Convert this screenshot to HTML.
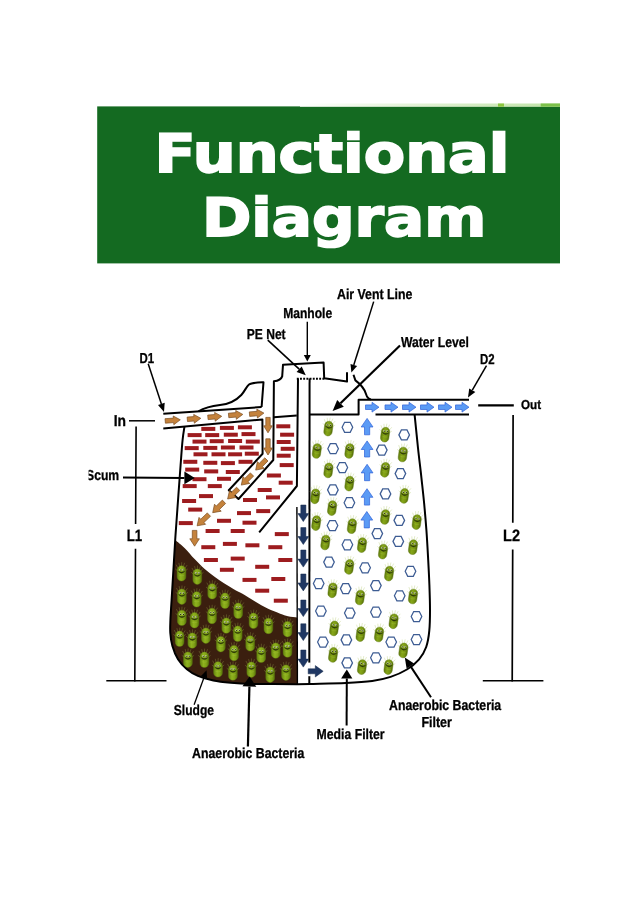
<!DOCTYPE html>
<html lang="en">
<head>
<meta charset="utf-8">
<title>Functional Diagram</title>
<style>
  html, body { margin: 0; padding: 0; background: #ffffff; }
  body { width: 638px; height: 909px; overflow: hidden; position: relative; }
  svg { position: absolute; left: 0; top: 0; display: block; will-change: transform; -webkit-font-smoothing: antialiased; text-rendering: geometricPrecision; }
  .title { font-family: "DejaVu Sans", "Liberation Sans", sans-serif; font-weight: bold; font-size: 53px; fill: #ffffff; stroke: #ffffff; stroke-width: 1.8px; stroke-linejoin: miter; }
  .lb { font-family: "Liberation Sans", Arial, sans-serif; font-weight: bold; fill: #000000; stroke: #000000; stroke-width: 0.3px; }
</style>
</head>
<body>
<svg width="638" height="909" viewBox="0 0 638 909">
<defs>
  <linearGradient id="strip" x1="0" y1="0" x2="1" y2="0">
    <stop offset="0" stop-color="#ffffff"/>
    <stop offset="0.5" stop-color="#dff0d0"/>
    <stop offset="1" stop-color="#bfe3a6"/>
  </linearGradient>
  <clipPath id="scumclip"><rect x="88.6" y="465" width="40" height="20"/></clipPath>
  <linearGradient id="bg" x1="0" y1="0" x2="1" y2="0">
    <stop offset="0" stop-color="#5f7a0c"/>
    <stop offset="0.4" stop-color="#86a618"/>
    <stop offset="0.7" stop-color="#789612"/>
    <stop offset="1" stop-color="#536c08"/>
  </linearGradient>
  <linearGradient id="bgd" x1="0" y1="0" x2="1" y2="0">
    <stop offset="0" stop-color="#64840e"/>
    <stop offset="0.4" stop-color="#8fb31e"/>
    <stop offset="0.7" stop-color="#80a216"/>
    <stop offset="1" stop-color="#58740a"/>
  </linearGradient>
  <g id="hex">
    <polygon points="-5.3,0 -2.8,-5 2.8,-5 5.3,0 2.8,5 -2.8,5" fill="#ffffff" stroke="#3d5c93" stroke-width="1.25" stroke-linejoin="miter"/>
  </g>
  <g id="bacbody">
    <circle cx="-1.4" cy="-3.6" r="1" fill="#d6e0b4"/>
    <circle cx="1.5" cy="-3.6" r="1" fill="#d6e0b4"/>
    <circle cx="-1.2" cy="-3.5" r="0.62" fill="#222a08"/>
    <circle cx="1.7" cy="-3.5" r="0.62" fill="#222a08"/>
    <path d="M-3.2,-2.1 Q0.1,1.7 3.3,-2.1 Q0.1,-0.5 -3.2,-2.1 Z" fill="#2b3608" stroke="#2b3608" stroke-width="0.4" stroke-linejoin="round"/>
    <path d="M-2.6,1.9 Q0.1,2.9 2.8,1.9" fill="none" stroke="#b4cf52" stroke-width="0.4" opacity="0.55"/>
  </g>
  <g id="bac">
    <g transform="rotate(8)">
      <g stroke="#a9c45a" stroke-width="0.5" fill="none" stroke-linecap="round" opacity="0.6">
        <path d="M-3.4,-5 L-5.2,-8.4 M-1.8,-6.6 L-2.6,-10.2 M0,-7 L0.2,-10.8 M1.8,-6.6 L3,-10.2 M3.4,-5 L5.4,-8 M4,-2.6 L5.9,-4.2 M-4,-2.6 L-5.9,-4.2"/>
      </g>
      <rect x="-4.2" y="-7.4" width="8.4" height="14.8" rx="4.2" ry="4.2" fill="url(#bg)" stroke="#5b7510" stroke-width="0.4"/>
      <use href="#bacbody"/>
    </g>
  </g>
  <g id="bacd">
    <g stroke="#8c9440" stroke-width="0.5" fill="none" stroke-linecap="round" opacity="0.8">
      <path d="M-3.4,-5 L-5.2,-8.4 M-1.8,-6.6 L-2.6,-10.2 M0,-7 L0.2,-10.8 M1.8,-6.6 L3,-10.2 M3.4,-5 L5.4,-8 M4,-2.6 L5.9,-4.2 M-4,-2.6 L-5.9,-4.2"/>
    </g>
    <rect x="-4.4" y="-7.7" width="8.8" height="15.4" rx="4.4" ry="4.4" fill="url(#bgd)" stroke="#5f7d10" stroke-width="0.4"/>
    <use href="#bacbody"/>
  </g>
</defs>
<rect x="97.2" y="106.4" width="462.8" height="157" fill="#146a21"/>
<rect x="300" y="103.5" width="260" height="3.2" fill="url(#strip)"/>
<rect x="498" y="103.5" width="6" height="3.2" fill="#8cc63f"/>
<rect x="540.7" y="103.5" width="19.3" height="3.2" fill="#7cc04a"/>
<text class="title" x="154.6" y="172.3" textLength="354.8" lengthAdjust="spacingAndGlyphs">Functional</text>
<text class="title" x="201.9" y="235.8" textLength="284.4" lengthAdjust="spacingAndGlyphs">Diagram</text>
<path fill="#3b1f0f" d="M175.2,540.0 C176.8,541.4 181.6,545.0 184.8,548.2 C188.0,551.4 191.3,555.6 194.6,559.0 C197.9,562.4 201.1,565.9 204.4,568.8 C207.7,571.7 210.9,574.2 214.2,576.6 C217.5,579.0 220.7,581.1 224.0,583.2 C227.3,585.3 230.7,587.4 233.8,589.2 C236.9,591.0 238.9,591.7 242.5,593.8 C246.1,595.9 250.9,599.1 255.1,601.6 C259.3,604.1 263.4,606.6 267.6,608.6 C271.8,610.6 276.8,612.5 280.2,613.8 C283.6,615.1 285.2,615.6 288.0,616.2 C290.8,616.8 295.5,617.2 297.0,617.4 L297,684.4 L297.0,684.2 L252.8,683.9 L230.8,682.8 L213.3,680.5 L197.9,675.8 L186.9,669.2 L178.0,659.3 L172.4,646.0 L170.3,633.0 L170.4,620.0 L171.6,600.0 L173.4,570.0 L175.2,540.0 Z"/>
<g fill="#9d1c1f"><rect x="201.3" y="426.9" width="14" height="4"/><rect x="219.9" y="425.9" width="14" height="4"/><rect x="237.9" y="425.3" width="14" height="4"/><rect x="276.3" y="424.3" width="14" height="4"/><rect x="187.6" y="433.1" width="14" height="4"/><rect x="205.2" y="433.1" width="14" height="4"/><rect x="223.8" y="432.7" width="14" height="4"/><rect x="241.5" y="432.1" width="14" height="4"/><rect x="280.1" y="432.7" width="14" height="4"/><rect x="192.5" y="439.6" width="14" height="4"/><rect x="209.7" y="439.2" width="14" height="4"/><rect x="228.1" y="439.0" width="14" height="4"/><rect x="245.8" y="439.6" width="14" height="4"/><rect x="276.7" y="440.0" width="14" height="4"/><rect x="184.7" y="446.1" width="14" height="4"/><rect x="203.3" y="445.9" width="14" height="4"/><rect x="220.9" y="445.5" width="14" height="4"/><rect x="239.5" y="445.5" width="14" height="4"/><rect x="280.7" y="446.8" width="14" height="4"/><rect x="193.5" y="452.3" width="14" height="4"/><rect x="211.5" y="452.3" width="14" height="4"/><rect x="228.1" y="452.3" width="14" height="4"/><rect x="244.8" y="451.7" width="14" height="4"/><rect x="276.7" y="453.7" width="14" height="4"/><rect x="183.3" y="459.8" width="14" height="4"/><rect x="203.3" y="460.8" width="14" height="4"/><rect x="220.9" y="461.1" width="14" height="4"/><rect x="238.5" y="459.8" width="14" height="4"/><rect x="279.7" y="463.1" width="14" height="4"/><rect x="185.2" y="467.6" width="14" height="4"/><rect x="204.2" y="469.4" width="14" height="4"/><rect x="225.8" y="470.0" width="14" height="4"/><rect x="266.9" y="473.5" width="14" height="4"/><rect x="192.5" y="477.2" width="14" height="4"/><rect x="217.0" y="476.8" width="14" height="4"/><rect x="278.7" y="480.7" width="14" height="4"/><rect x="182.7" y="484.1" width="14" height="4"/><rect x="207.8" y="484.1" width="14" height="4"/><rect x="257.7" y="488.0" width="14" height="4"/><rect x="199.0" y="494.1" width="14" height="4"/><rect x="243.0" y="498.0" width="14" height="4"/><rect x="266.0" y="495.4" width="14" height="4"/><rect x="182.1" y="499.0" width="14" height="4"/><rect x="188.2" y="507.6" width="14" height="4"/><rect x="237.0" y="511.1" width="14" height="4"/><rect x="256.2" y="509.1" width="14" height="4"/><rect x="178.8" y="521.1" width="14" height="4"/><rect x="217.0" y="518.8" width="14" height="4"/><rect x="242.5" y="520.7" width="14" height="4"/><rect x="205.6" y="529.0" width="14" height="4"/><rect x="230.7" y="529.0" width="14" height="4"/><rect x="274.8" y="532.1" width="14" height="4"/><rect x="201.3" y="545.2" width="14" height="4"/><rect x="222.9" y="541.9" width="14" height="4"/><rect x="245.4" y="543.3" width="14" height="4"/><rect x="268.3" y="545.2" width="14" height="4"/><rect x="203.9" y="558.0" width="14" height="4"/><rect x="230.7" y="556.6" width="14" height="4"/><rect x="278.3" y="558.0" width="14" height="4"/><rect x="219.9" y="567.8" width="14" height="4"/><rect x="255.2" y="564.8" width="14" height="4"/><rect x="242.5" y="577.9" width="14" height="4"/><rect x="271.3" y="577.0" width="14" height="4"/><rect x="255.2" y="588.7" width="14" height="4"/><rect x="273.8" y="598.7" width="14" height="4"/></g>
<path fill="none" stroke="#000" stroke-width="2" stroke-linejoin="round" stroke-linecap="butt" d="M184.5,426.4 C184.2,428.7 183.2,433.6 182.6,440.0 C181.9,446.4 181.3,455.8 180.6,465.0 C179.9,474.2 179.1,485.8 178.4,495.0 C177.7,504.2 177.1,512.5 176.6,520.0 C176.1,527.5 175.7,531.7 175.2,540.0 C174.7,548.3 174.0,560.0 173.4,570.0 C172.8,580.0 172.1,591.7 171.6,600.0 C171.1,608.3 170.6,614.5 170.4,620.0 C170.2,625.5 170.0,628.7 170.3,633.0 C170.6,637.3 171.1,641.6 172.4,646.0 C173.7,650.4 175.6,655.4 178.0,659.3 C180.4,663.2 183.6,666.5 186.9,669.2 C190.2,672.0 193.5,673.9 197.9,675.8 C202.3,677.7 207.8,679.3 213.3,680.5 C218.8,681.7 224.2,682.2 230.8,682.8 C237.4,683.4 241.8,683.7 252.8,683.9 C263.8,684.1 289.6,684.2 297.0,684.2 L310,684  C316.0,683.8 335.4,683.5 345.8,683.0 C356.2,682.5 364.7,682.0 372.2,681.0 C379.7,680.0 384.8,678.8 390.6,676.9 C396.4,675.0 402.1,672.4 406.9,669.5 C411.6,666.6 415.9,663.0 419.1,659.3 C422.3,655.5 424.5,651.8 426.2,647.0 C427.9,642.2 428.7,636.9 429.3,630.7 C429.9,624.5 430.0,617.6 430.0,610.0 C430.0,602.4 429.7,593.3 429.4,585.0 C429.1,576.7 428.7,569.2 428.2,560.0 C427.7,550.8 427.1,539.3 426.4,530.0 C425.7,520.7 425.0,512.7 424.2,504.0 C423.4,495.3 422.4,486.9 421.4,477.6 C420.4,468.3 419.1,458.5 418.0,448.0 C416.9,437.5 415.2,420.2 414.6,414.6"/>
<path fill="none" stroke="#000" stroke-width="2" stroke-linejoin="round" stroke-linecap="butt" d="M198.5,411.4 C204,408 211,406 220,405 C229,404.2 236,400.5 241.3,395 C245,391 246,387 249,384.5 C252,382.6 257,382.5 263.5,382.2 L261.6,407"/>
<path fill="none" stroke="#000" stroke-width="2" stroke-linejoin="round" stroke-linecap="butt" d="M163.3,413.8 L261.6,407"/>
<path fill="none" stroke="#000" stroke-width="2" stroke-linejoin="round" stroke-linecap="butt" d="M163.3,428.4 L262.4,419.4 L262.6,453.8 L228.8,490.2 L238.5,499 L273.3,460 L273.9,381.2 Q280.8,380.6 282.2,376.4 L283,364.8 L323.6,362.6 L324.2,378.2 L347,381.6 L347,372.2"/>
<path fill="none" stroke="#000" stroke-width="2" stroke-linejoin="round" stroke-linecap="butt" d="M353.5,374.8 L355.4,380.4 C361,384.5 364.5,389 366,394 C367,397.5 368.5,399 371,399.4"/>
<path fill="none" stroke="#000" stroke-width="2" stroke-linejoin="round" stroke-linecap="butt" d="M469,399.8 L358.6,399.8 L358.6,414.5 L310,414.5"/>
<path fill="none" stroke="#000" stroke-width="2" stroke-linejoin="round" stroke-linecap="butt" d="M375.5,414.6 L469,414.6"/>
<path fill="none" stroke="#000" stroke-width="2" stroke-linejoin="round" stroke-linecap="butt" d="M298,378.4 L296.9,486 L259.2,532.4"/>
<path fill="none" stroke="#000" stroke-width="2" stroke-linejoin="round" stroke-linecap="butt" d="M309.6,378.4 L309.3,684"/>
<path fill="none" stroke="#000" stroke-width="1.4" d="M296.9,507 L297.4,684"/>
<rect x="307.8" y="662.6" width="3" height="13.6" fill="#ffffff"/>
<path fill="none" stroke="#000" stroke-width="2" stroke-linejoin="round" stroke-linecap="butt" d="M273.9,417.3 L296.8,415.6"/>
<path fill="none" stroke="#000" stroke-width="1.9" stroke-dasharray="1.9 1.3" d="M296.8,378.8 L324.4,378.8"/>
<g fill="#c4823c" stroke="#7a4c20" stroke-width="0.7" stroke-linejoin="round"><polygon points="165.4,423.2 173.7,422.6 173.8,424.7 180.3,419.8 173.2,416.0 173.4,418.1 165.0,418.7"/><polygon points="187.5,421.5 194.2,421.0 194.3,423.2 200.8,418.3 193.7,414.4 193.9,416.6 187.1,417.1"/><polygon points="208.1,419.6 215.1,419.0 215.2,421.2 221.7,416.3 214.6,412.4 214.8,414.5 207.7,415.1"/><polygon points="228.8,417.7 236.2,417.1 236.3,419.3 242.8,414.4 235.7,410.5 235.9,412.6 228.4,413.2"/><polygon points="249.7,416.4 257.3,415.8 257.4,418.0 263.9,413.1 256.8,409.2 257.0,411.3 249.3,411.9"/><polygon points="265.8,417.4 265.8,425.8 263.7,425.8 268.0,432.8 272.3,425.8 270.2,425.8 270.2,417.4"/><polygon points="265.8,438.8 265.8,448.0 263.7,448.0 268.0,455.0 272.3,448.0 270.2,448.0 270.2,438.8"/><polygon points="264.8,457.8 259.2,463.4 257.4,461.6 255.7,470.1 264.2,468.4 262.4,466.6 268.0,461.0"/><polygon points="250.4,472.9 244.8,478.4 243.0,476.6 241.3,485.1 249.8,483.4 248.0,481.7 253.6,476.1"/><polygon points="236.6,487.2 231.2,492.4 229.5,490.6 227.6,499.0 236.1,497.5 234.4,495.7 239.8,490.6"/><polygon points="222.4,500.1 216.3,506.0 214.5,504.2 212.7,512.7 221.2,511.2 219.5,509.4 225.6,503.5"/><polygon points="207.3,512.9 200.7,519.2 199.0,517.4 197.1,525.8 205.6,524.3 203.9,522.5 210.5,516.3"/><polygon points="192.3,530.4 192.3,538.8 189.8,538.8 194.6,546.2 199.4,538.8 196.9,538.8 196.9,530.4"/></g>
<g fill="#1f3763" stroke="#152848" stroke-width="0.5" stroke-linejoin="round"><polygon points="300.8,505.0 300.8,513.6 297.9,513.6 303.3,521.6 308.7,513.6 305.9,513.6 305.9,505.0"/><polygon points="300.8,527.6 300.8,536.5 297.9,536.5 303.3,544.5 308.7,536.5 305.9,536.5 305.9,527.6"/><polygon points="300.8,550.0 300.8,559.1 297.9,559.1 303.3,567.1 308.7,559.1 305.9,559.1 305.9,550.0"/><polygon points="300.8,574.0 300.8,582.9 297.9,582.9 303.3,590.9 308.7,582.9 305.9,582.9 305.9,574.0"/><polygon points="300.8,600.0 300.8,608.6 297.9,608.6 303.3,616.6 308.7,608.6 305.9,608.6 305.9,600.0"/><polygon points="300.8,623.8 300.8,632.6 297.9,632.6 303.3,640.6 308.7,632.6 305.9,632.6 305.9,623.8"/><polygon points="300.8,650.0 300.8,659.1 297.9,659.1 303.3,667.1 308.7,659.1 305.9,659.1 305.9,650.0"/><polygon points="308.2,673.8 315.3,673.8 315.3,677.0 323.2,671.3 315.3,665.6 315.3,668.8 308.2,668.8"/></g>
<g fill="#5b9bf5" stroke="#2f62d8" stroke-width="0.7" stroke-linejoin="round"><polygon points="369.7,434.8 369.7,427.0 373.0,427.0 367.1,418.4 361.2,427.0 364.5,427.0 364.5,434.8"/><polygon points="369.7,457.0 369.7,449.5 373.0,449.5 367.1,440.9 361.2,449.5 364.5,449.5 364.5,457.0"/><polygon points="369.7,480.7 369.7,472.9 373.0,472.9 367.1,464.3 361.2,472.9 364.5,472.9 364.5,480.7"/><polygon points="369.6,505.1 369.6,497.3 372.9,497.3 367.0,488.7 361.1,497.3 364.4,497.3 364.4,505.1"/><polygon points="369.4,527.9 369.4,520.1 372.7,520.1 366.8,511.5 360.9,520.1 364.2,520.1 364.2,527.9"/><polygon points="365.5,409.5 372.0,409.5 372.0,412.1 379.0,407.2 372.0,402.3 372.0,404.9 365.5,404.9"/><polygon points="385.0,409.5 391.0,409.5 391.0,412.1 398.0,407.2 391.0,402.3 391.0,404.9 385.0,404.9"/><polygon points="402.5,409.5 409.0,409.5 409.0,412.1 416.0,407.2 409.0,402.3 409.0,404.9 402.5,404.9"/><polygon points="420.5,409.5 427.0,409.5 427.0,412.1 434.0,407.2 427.0,402.3 427.0,404.9 420.5,404.9"/><polygon points="438.5,409.5 445.0,409.5 445.0,412.1 452.0,407.2 445.0,402.3 445.0,404.9 438.5,404.9"/><polygon points="455.5,409.5 462.0,409.5 462.0,412.1 469.0,407.2 462.0,402.3 462.0,404.9 455.5,404.9"/></g>
<use href="#hex" x="347.4" y="427.3"/><use href="#hex" x="404.2" y="434.9"/><use href="#hex" x="333.1" y="448.7"/><use href="#hex" x="381.8" y="450.1"/><use href="#hex" x="342.3" y="467.5"/><use href="#hex" x="400.4" y="473.6"/><use href="#hex" x="332.9" y="489.9"/><use href="#hex" x="385.5" y="493.9"/><use href="#hex" x="349.4" y="502.7"/><use href="#hex" x="399.3" y="520.4"/><use href="#hex" x="332.5" y="525.5"/><use href="#hex" x="377.3" y="533.6"/><use href="#hex" x="398.3" y="541.4"/><use href="#hex" x="347.4" y="544.8"/><use href="#hex" x="329.0" y="562.1"/><use href="#hex" x="365.1" y="567.8"/><use href="#hex" x="410.5" y="571.3"/><use href="#hex" x="318.7" y="583.5"/><use href="#hex" x="345.7" y="588.6"/><use href="#hex" x="375.9" y="585.6"/><use href="#hex" x="399.7" y="595.8"/><use href="#hex" x="320.9" y="611.0"/><use href="#hex" x="349.8" y="613.0"/><use href="#hex" x="375.9" y="612.0"/><use href="#hex" x="416.5" y="616.5"/><use href="#hex" x="322.9" y="642.0"/><use href="#hex" x="346.4" y="639.9"/><use href="#hex" x="391.2" y="642.0"/><use href="#hex" x="416.5" y="639.5"/><use href="#hex" x="375.9" y="657.8"/><use href="#hex" x="347.2" y="662.9"/>
<use href="#bac" x="328.4" y="428.6"/><use href="#bac" x="385.1" y="434.7"/><use href="#bac" x="316.8" y="451.0"/><use href="#bac" x="349.4" y="451.0"/><use href="#bac" x="402.8" y="454.5"/><use href="#bac" x="328.4" y="470.4"/><use href="#bac" x="385.1" y="469.8"/><use href="#bac" x="349.4" y="483.6"/><use href="#bac" x="315.2" y="496.3"/><use href="#bac" x="404.2" y="495.9"/><use href="#bac" x="332.1" y="508.1"/><use href="#bac" x="385.1" y="517.0"/><use href="#bac" x="316.2" y="523.1"/><use href="#bac" x="351.9" y="526.2"/><use href="#bac" x="416.7" y="522.1"/><use href="#bac" x="325.4" y="542.5"/><use href="#bac" x="362.0" y="545.1"/><use href="#bac" x="383.0" y="551.6"/><use href="#bac" x="413.0" y="547.2"/><use href="#bac" x="349.2" y="566.9"/><use href="#bac" x="389.1" y="573.6"/><use href="#bac" x="332.5" y="590.3"/><use href="#bac" x="360.0" y="597.5"/><use href="#bac" x="413.0" y="596.5"/><use href="#bac" x="393.6" y="621.3"/><use href="#bac" x="334.1" y="628.4"/><use href="#bac" x="360.6" y="634.1"/><use href="#bac" x="379.0" y="634.5"/><use href="#bac" x="403.4" y="650.4"/><use href="#bac" x="333.1" y="654.9"/><use href="#bac" x="362.0" y="667.1"/><use href="#bac" x="388.5" y="667.1"/><use href="#bacd" x="181.5" y="573.4"/><use href="#bacd" x="197.3" y="576.7"/><use href="#bacd" x="212.2" y="591.4"/><use href="#bacd" x="181.8" y="596.7"/><use href="#bacd" x="196.7" y="599.4"/><use href="#bacd" x="225.0" y="600.8"/><use href="#bacd" x="238.2" y="610.8"/><use href="#bacd" x="253.5" y="620.8"/><use href="#bacd" x="268.4" y="626.0"/><use href="#bacd" x="287.5" y="629.2"/><use href="#bacd" x="181.8" y="617.9"/><use href="#bacd" x="194.5" y="620.3"/><use href="#bacd" x="212.0" y="616.0"/><use href="#bacd" x="226.3" y="625.6"/><use href="#bacd" x="237.7" y="633.8"/><use href="#bacd" x="250.2" y="643.4"/><use href="#bacd" x="275.7" y="650.6"/><use href="#bacd" x="287.5" y="649.6"/><use href="#bacd" x="179.6" y="638.8"/><use href="#bacd" x="192.3" y="640.6"/><use href="#bacd" x="205.9" y="635.7"/><use href="#bacd" x="220.8" y="644.2"/><use href="#bacd" x="234.0" y="653.1"/><use href="#bacd" x="261.2" y="654.9"/><use href="#bacd" x="187.9" y="659.7"/><use href="#bacd" x="204.4" y="659.8"/><use href="#bacd" x="218.0" y="669.4"/><use href="#bacd" x="232.9" y="672.6"/><use href="#bacd" x="251.3" y="669.7"/><use href="#bacd" x="270.2" y="674.7"/><use href="#bacd" x="286.0" y="672.7"/>
<path stroke="#000" fill="none" stroke-width="1.5" d="M129,420.8 H155 "/>
<path stroke="#000" fill="none" stroke-width="1.6" d="M136.1,426.4 L135.6,524 M135.5,548.7 L134.8,681.4"/>
<path stroke="#000" fill="none" stroke-width="1.6" d="M106.3,680.8 H166.5"/>
<path stroke="#000" fill="none" stroke-width="2.3" d="M478.2,405.4 H513.8"/>
<path stroke="#000" fill="none" stroke-width="1.7" d="M513.1,415.1 L512.8,522.8 M512.7,549.4 L512.2,681.4"/>
<path stroke="#000" fill="none" stroke-width="1.6" d="M482.8,680.8 H543.4"/>
<line x1="148.2" y1="363.8" x2="161.4" y2="403.9" stroke="#000" stroke-width="1.5"/><polygon fill="#000" points="164.0,412.0 158.0,405.0 164.7,402.8"/>
<line x1="307.3" y1="321.8" x2="307.3" y2="355.1" stroke="#000" stroke-width="1.4"/><polygon fill="#000" points="307.3,361.6 303.8,355.1 310.8,355.1"/>
<line x1="267.8" y1="340.2" x2="299.2" y2="369.2" stroke="#000" stroke-width="1.6"/><polygon fill="#000" points="305.8,375.3 296.6,371.9 301.7,366.4"/>
<line x1="373.7" y1="301.6" x2="353.8" y2="365.0" stroke="#000" stroke-width="1.5"/><polygon fill="#000" points="351.4,372.6 350.5,363.9 357.1,366.0"/>
<line x1="400.0" y1="345.5" x2="340.5" y2="403.3" stroke="#000" stroke-width="2.2"/><polygon fill="#000" points="332.6,411.0 337.2,399.9 343.8,406.7"/>
<line x1="486.5" y1="365.7" x2="472.3" y2="390.2" stroke="#000" stroke-width="1.5"/><polygon fill="#000" points="468.0,397.6 469.2,388.5 475.3,392.0"/>
<line x1="123.0" y1="477.6" x2="184.4" y2="477.9" stroke="#000" stroke-width="2"/><polygon fill="#000" points="194.8,478.0 184.4,484.3 184.4,471.5"/>
<line x1="194.1" y1="704.8" x2="204.1" y2="677.3" stroke="#000" stroke-width="1.3"/><polygon fill="#000" points="206.6,670.2 207.1,678.4 201.0,676.1"/>
<line x1="247.9" y1="746.5" x2="249.4" y2="686.5" stroke="#000" stroke-width="2.2"/><polygon fill="#000" points="249.6,676.5 256.3,686.7 242.5,686.3"/>
<line x1="346.6" y1="725.5" x2="346.8" y2="678.6" stroke="#000" stroke-width="2"/><polygon fill="#000" points="346.8,669.6 352.4,678.6 341.1,678.6"/>
<line x1="431.0" y1="697.2" x2="410.3" y2="665.9" stroke="#000" stroke-width="2"/><polygon fill="#000" points="404.8,657.6 414.1,663.5 406.6,668.4"/>
<text class="lb" x="337.0" y="299.1" font-size="14.4" textLength="75.4" lengthAdjust="spacingAndGlyphs">Air Vent Line</text>
<text class="lb" x="283.2" y="318.0" font-size="14.4" textLength="49.0" lengthAdjust="spacingAndGlyphs">Manhole</text>
<text class="lb" x="246.8" y="338.6" font-size="14.4" textLength="38.8" lengthAdjust="spacingAndGlyphs">PE Net</text>
<text class="lb" x="401.0" y="346.5" font-size="14.4" textLength="67.8" lengthAdjust="spacingAndGlyphs">Water Level</text>
<text class="lb" x="139.4" y="362.9" font-size="14.4" textLength="14.6" lengthAdjust="spacingAndGlyphs">D1</text>
<text class="lb" x="480.0" y="364.1" font-size="14.4" textLength="14.6" lengthAdjust="spacingAndGlyphs">D2</text>
<text class="lb" x="113.7" y="425.5" font-size="15.6" textLength="12.3" lengthAdjust="spacingAndGlyphs">In</text>
<text class="lb" x="521.0" y="409.2" font-size="13" textLength="20.1" lengthAdjust="spacingAndGlyphs">Out</text>
<text class="lb" x="86.0" y="480.3" font-size="14.4" textLength="33.2" lengthAdjust="spacingAndGlyphs" clip-path="url(#scumclip)">Scum</text>
<text class="lb" x="126.7" y="540.6" font-size="16.4" textLength="15.5" lengthAdjust="spacingAndGlyphs">L1</text>
<text class="lb" x="503.1" y="540.5" font-size="16.4" textLength="16.9" lengthAdjust="spacingAndGlyphs">L2</text>
<text class="lb" x="173.8" y="714.9" font-size="14.4" textLength="40.2" lengthAdjust="spacingAndGlyphs">Sludge</text>
<text class="lb" x="192.0" y="758.0" font-size="14.4" textLength="112.4" lengthAdjust="spacingAndGlyphs">Anaerobic Bacteria</text>
<text class="lb" x="316.6" y="738.7" font-size="14.4" textLength="68.0" lengthAdjust="spacingAndGlyphs">Media Filter</text>
<text class="lb" x="389.0" y="710.3" font-size="14.4" textLength="112.2" lengthAdjust="spacingAndGlyphs">Anaerobic Bacteria</text>
<text class="lb" x="421.4" y="726.6" font-size="14.4" textLength="30.4" lengthAdjust="spacingAndGlyphs">Filter</text>
</svg>
</body>
</html>
